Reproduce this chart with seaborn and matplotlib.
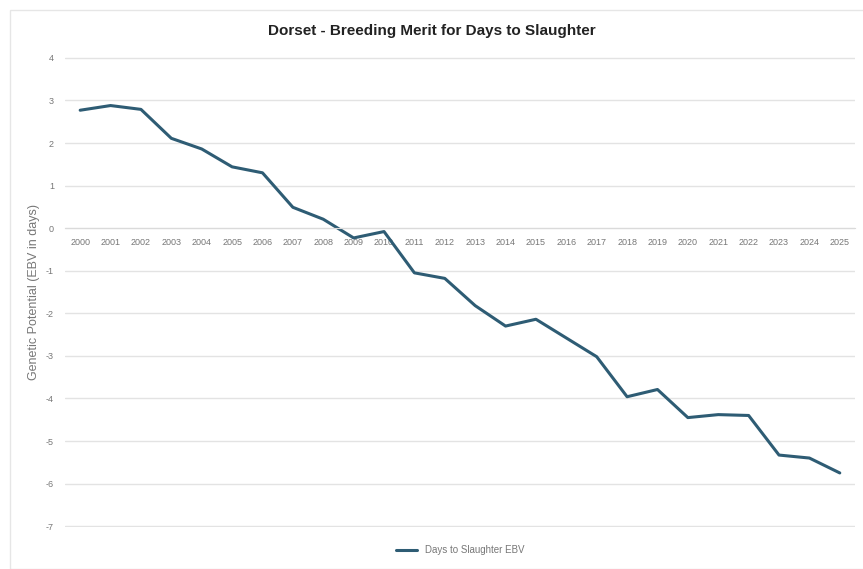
import numpy as np
import pandas as pd
import matplotlib
matplotlib.use("Agg")
import matplotlib.pyplot as plt
import seaborn as sns

# ----------------------------------------------------------
# Data
# ----------------------------------------------------------
years = list(range(2000, 2026))
ebv = [2.77, 2.88, 2.79, 2.11, 1.86, 1.44, 1.30, 0.49, 0.21, -0.23,
       -0.08, -1.05, -1.18, -1.82, -2.30, -2.14, -2.58, -3.02, -3.96, -3.79,
       -4.45, -4.38, -4.40, -5.33, -5.40, -5.75]
series_name = "Days to Slaughter EBV"
title = "Dorset - Breeding Merit for Days to Slaughter"
y_label = "Genetic Potential (EBV in days)"

df = pd.DataFrame({"Year": years, "EBV": ebv, "Series": series_name})

# ----------------------------------------------------------
# Plot
# ----------------------------------------------------------
sns.set_style("white")
plt.rcParams["font.family"] = ["Liberation Sans", "DejaVu Sans"]
plt.rcParams["axes.unicode_minus"] = False

fig = plt.figure(figsize=(8.63, 5.69), dpi=100)
ax = fig.add_axes([0.0753, 0.0738, 0.9154, 0.826])

sns.lineplot(data=df, x="Year", y="EBV", hue="Series",
             palette=["#2E5C74"], linewidth=2.2, ax=ax)

ax.set_xlim(1999.5, 2025.5)
ax.set_ylim(-7.02, 4.02)
ax.set_yticks(range(-7, 5))
ax.set_xticks(years)
ax.set_xticklabels([str(y) for y in years])
ax.tick_params(axis="both", length=0, labelsize=6.5, labelcolor="#777777")
ax.tick_params(axis="x", pad=7)
ax.tick_params(axis="y", pad=8)

ax.grid(axis="y", color="#E3E3E3", linewidth=1)
ax.set_axisbelow(True)
for side in ["top", "right", "left"]:
    ax.spines[side].set_visible(False)
ax.spines["bottom"].set_position(("data", 0))
ax.spines["bottom"].set_color("#DADADA")

ax.set_xlabel("")
ax.set_ylabel(y_label, fontsize=9, color="#777777", labelpad=4)
fig.text(0.5, 0.945, title, ha="center", va="center",
         fontsize=11, fontweight="bold", color="#222222")

ax.legend(loc="upper center", bbox_to_anchor=(0.5, -0.02), frameon=False,
          fontsize=7, labelcolor="#777777", handlelength=2.2)

# faint chart frame
fig.patches.append(plt.Rectangle((0.012, 0.0), 0.99, 0.982, transform=fig.transFigure,
                                 fill=False, edgecolor="#E6E6E6", linewidth=1))

plt.savefig("out.png", dpi=100)
